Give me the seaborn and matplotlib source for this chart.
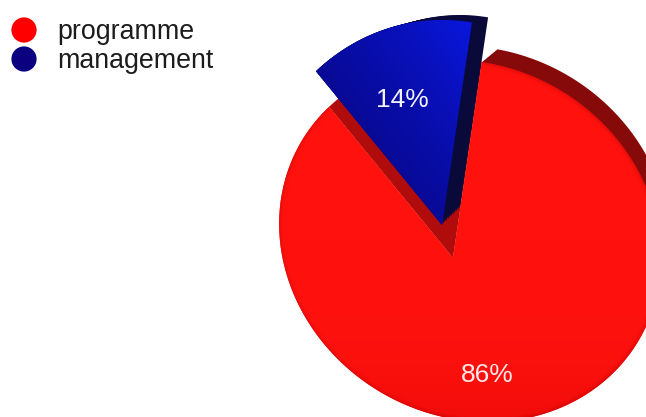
import numpy as np
import matplotlib
matplotlib.use("Agg")
import matplotlib.pyplot as plt
import pandas as pd
import seaborn as sns

# Data
categories = ["programme", "management"]
shares = [86, 14]
palette = ["#ff0000", "#0a0080"]

W, H = 646, 417

sns.set_theme(style="white")
plt.rcParams["font.family"] = ["Liberation Sans", "DejaVu Sans"]

fig = plt.figure(figsize=(W / 100, H / 100), dpi=100)
ax = fig.add_axes([0, 0, 1, 1])

# the pie leans back a little, so angles are squeezed sideways
SQUEEZE = 0.93
SEAM = 81  # where the management slice starts, degrees

sweep_small = shares[1] / sum(shares) * 360
sweep_big = shares[0] / sum(shares) * 360


def slice_outline(apex, start, sweep, centre, a, b, shear=0.0, steps=300):
    # apex plus the arc of a sheared ellipse seen from the apex, y up
    th = np.radians(np.linspace(start, start + sweep, steps))
    dx, dy = SQUEEZE * np.cos(th), np.sin(th)
    px, py = apex[0] - centre[0], apex[1] - centre[1]
    ux, uy = dx + shear * dy, dy
    qx, qy = px + shear * py, py
    qa = (ux / a) ** 2 + (uy / b) ** 2
    qb = 2 * (qx * ux / a ** 2 + qy * uy / b ** 2)
    qc = (qx / a) ** 2 + (qy / b) ** 2 - 1
    t = (-qb + np.sqrt(qb ** 2 - 4 * qa * qc)) / (2 * qa)
    xs = np.r_[apex[0], apex[0] + t * dx]
    ys = np.r_[apex[1], apex[1] + t * dy]
    return xs, ys


RED_APEX = (453, H - 258)
BLUE_APEX = (442, H - 225)
NAVY_APEX = (460, H - 208)
BODY = (470, H - 241)
BODY_A, BODY_B = 190, 181
SHEAR = 0.10

red_x, red_y = slice_outline(RED_APEX, SEAM + sweep_small, sweep_big, BODY, BODY_A, BODY_B, SHEAR, steps=600)

# dark rim top right, behind the body, joined to the notch corner
th = np.radians(np.linspace(-10, 79, 120))
rim_y = BODY_B * np.sin(th)
rim_xs = np.r_[BODY[0] + 9 + BODY_A * np.cos(th) - SHEAR * rim_y, red_x[-1]]
rim_ys = np.r_[BODY[1] + 14 + rim_y, red_y[-1]]
ax.fill(rim_xs, rim_ys, color="#870a0a", lw=0, zorder=1)

# floor of the notch
xs, ys = slice_outline(RED_APEX, SEAM, sweep_small, BODY, BODY_A, BODY_B, SHEAR)
ax.fill(xs, ys, color="#b00c0c", lw=0, zorder=2)

# side of the lifted slice
for t in np.linspace(0, 1, 12):
    cx = BLUE_APEX[0] + t * (NAVY_APEX[0] - BLUE_APEX[0])
    cy = BLUE_APEX[1] + t * (NAVY_APEX[1] - BLUE_APEX[1])
    a, b = 190.6 - 11 * t, 205 - 12 * t
    xs, ys = slice_outline((cx, cy), SEAM, sweep_small, (cx, cy), a, b)
    ax.fill(xs, ys, color="#0a0a3a", lw=0, zorder=3)

# red slice, darker toward the edge and the bottom
red_patch = ax.fill(red_x, red_y, color="#ff120e", lw=0, zorder=4)[0]
gx, gy = np.meshgrid(np.arange(0, W + 1), np.arange(0, H + 1))
dist = np.sqrt(((gx - BODY[0] + SHEAR * (gy - BODY[1])) / BODY_A) ** 2 + ((gy - BODY[1]) / BODY_B) ** 2)
edge = np.clip((dist - 0.97) / 0.03, 0, 1) ** 2
low = np.clip((BODY[1] - gy) / BODY_B, 0, 1) ** 3
red_rgb = np.dstack([255 - 14 * low - 25 * edge, 18 - 6 * low - 6 * edge, 14 - 4 * low - 4 * edge]) / 255
im_red = ax.imshow(red_rgb, extent=(0, W, 0, H), origin="lower", aspect="auto",
                   zorder=4.5, interpolation="bilinear")
im_red.set_clip_path(red_patch)

# blue slice with its gradient
xs, ys = slice_outline(BLUE_APEX, SEAM, sweep_small, BLUE_APEX, 190.6, 205)
blue_patch = ax.fill(xs, ys, color="#0a0a90", lw=0, zorder=5)[0]
xx, yy = np.meshgrid(np.linspace(0, 1, 80), np.linspace(0, 1, 80))
ramp = np.clip((xx + yy) / 2, 0, 1) ** 1.6
rgb = np.dstack([8 + 2 * ramp, 6 + 18 * ramp, 130 + 95 * ramp])
im = ax.imshow(rgb / 255, extent=(316, 475, H - 225, H - 15), origin="lower",
               aspect="auto", zorder=6, interpolation="bilinear")
im.set_clip_path(blue_patch)

# percent labels
ax.text(402, H - 100, f"{shares[1]}%", color="#f2f2fa", fontsize=19,
        ha="center", va="center", zorder=7)
ax.text(487, H - 375, f"{shares[0]}%", color="#ffe8e8", fontsize=19,
        ha="center", va="center", zorder=7)

# legend dots and names
legend_df = pd.DataFrame({"category": categories, "x": [24, 24], "y": [H - 30, H - 59]})
sns.scatterplot(data=legend_df, x="x", y="y", hue="category", palette=palette,
                s=330, linewidth=0, legend=False, ax=ax, zorder=8)
for name, y in zip(categories, legend_df["y"]):
    ax.text(57, y - 2, name, color="#1c1c1c", fontsize=19.3, ha="left", va="center", zorder=8)

ax.set_xlim(0, W)
ax.set_ylim(0, H)
ax.set_xlabel("")
ax.set_ylabel("")
ax.axis("off")

fig.savefig("out.png", dpi=100)
